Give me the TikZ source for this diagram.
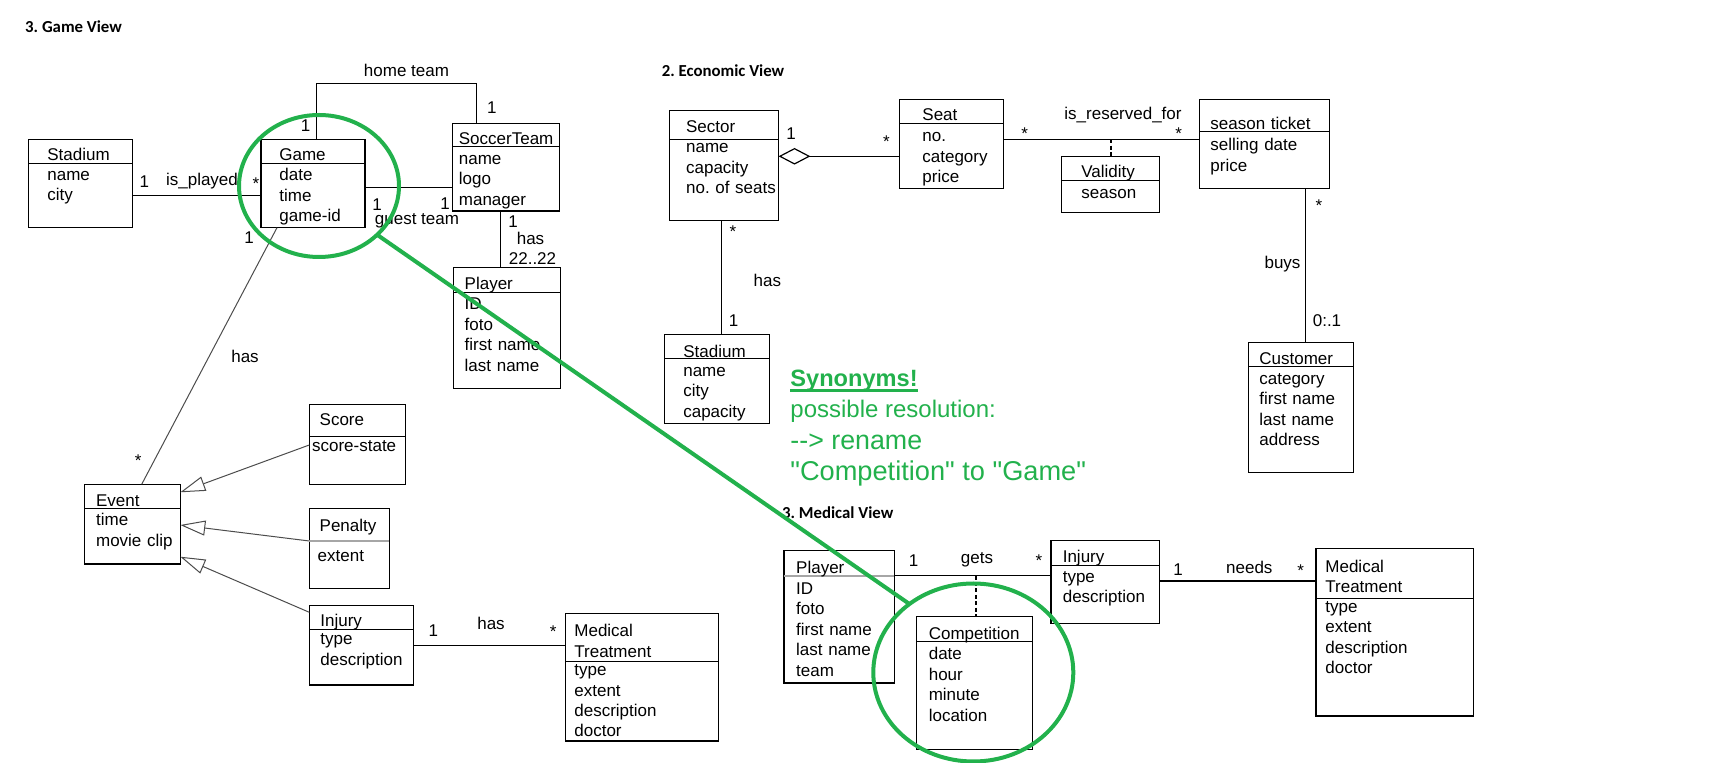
\documentclass[tikz,border=0pt]{standalone}
\usepackage{fontspec}
\setmainfont{Liberation Sans}
\newfontfamily\headfont{Carlito}
\newfontfamily\notefont{Liberation Sans}
\usetikzlibrary{arrows.meta,fit,shapes.geometric}
\frenchspacing

\definecolor{markgreen}{RGB}{34,177,76}
\newcommand\boxfont{\fontsize{8.5}{10.25}\selectfont}

\tikzset{
  classbox/.style={draw, rectangle, inner sep=0pt, outer sep=0pt, line width=0.6pt},
  ctitle/.style={anchor=base west, inner sep=0pt, font=\boxfont, text width=80pt, align=left},
  cattr/.style={anchor=base west, inner sep=0pt, font=\boxfont, text width=80pt, align=left},
  lbl/.style={inner sep=0pt, font=\boxfont},
  star/.style={lbl, yshift=-1.8pt},
  viewtitle/.style={anchor=base west, inner sep=0pt, font=\headfont\bfseries\fontsize{8.4}{10}\selectfont},
  assoc/.style={line width=0.6pt},
  thinlink/.style={line width=0.5pt, draw=black!70},
  gen/.style={thinlink, -{Triangle[open, length=12.5pt, width=7.5pt]}},
  aggr/.style={assoc, {Diamond[open, length=15.9pt, width=8.3pt]}-},
  linkdash/.style={line width=1pt, dash pattern=on 2pt off 1.2pt},
  ring/.style={draw=markgreen, line width=2pt, ellipse, inner sep=0pt, outer sep=0pt},
  note/.style={anchor=base west, inner sep=0pt, text=markgreen}
}

\begin{document}
\begin{tikzpicture}[x=0.5pt, y=-0.5pt]
  \useasboundingbox (0,0) rectangle (1713,763);

  % ---------- 3. Game View ----------
  \node[viewtitle] (gameview) at (24.8,32.5) {3. Game View};

  \node[classbox, fit={(28.7,139.3) (132.6,227.7)}] (gstad) {};
  \draw (gstad.west |- 0,163.3) -- (gstad.east |- 0,163.3);
  \node[ctitle] (gstad-t) at (47,161) {Stadium};
  \node[cattr] (gstad-a) at (47,180.5) {name\\city};

  \node[classbox, fit={(261,139.3) (365,227.7)}] (game) {};
  \draw (game.west |- 0,163.3) -- (game.east |- 0,163.3);
  \node[ctitle] (game-t) at (279,161) {Game};
  \node[cattr] (game-a) at (279,181) {date\\time\\game-id};

  \node[classbox, fit={(452.8,123.3) (559.8,211)}] (team) {};
  \draw (team.west |- 0,146.7) -- (team.east |- 0,146.7);
  \node[ctitle] (team-t) at (458.5,145) {SoccerTeam};
  \node[cattr] (team-a) at (458.5,164.3) {name\\logo\\manager};

  \node[classbox, fit={(453.3,267.3) (560.7,388.3)}] (gplayer) {};
  \draw (gplayer.west |- 0,292.3) -- (gplayer.east |- 0,292.3);
  \node[ctitle] (gplayer-t) at (464.3,290) {Player};
  \node[cattr] (gplayer-a) at (464.3,310) {ID\\foto\\first name\\last name};

  \node[classbox, fit={(84.3,484.3) (180.3,564)}] (event) {};
  \draw (event.west |- 0,508.3) -- (event.east |- 0,508.3);
  \node[ctitle] (event-t) at (95.7,506.5) {Event};
  \node[cattr] (event-a) at (95.7,526) {time\\movie clip};

  \node[classbox, fit={(309.3,404.3) (405.3,484.3)}] (score) {};
  \draw (score.west |- 0,436.3) -- (score.east |- 0,436.3);
  \node[ctitle] (score-t) at (319.3,426) {Score};
  \node[cattr] (score-a) at (311.7,451.5) {score-state};

  \node[classbox, fit={(309.3,508.3) (389.3,588.3)}] (penalty) {};
  \draw[black!35, line width=0.8pt] (penalty.west |- 0,541) -- (penalty.east |- 0,541);
  \node[ctitle] (penalty-t) at (319.3,531.5) {Penalty};
  \node[cattr] (penalty-a) at (317.3,562) {extent};

  \node[classbox, fit={(309.3,605.7) (413.3,685)}] (ginjury) {};
  \draw (ginjury.west |- 0,629.3) -- (ginjury.east |- 0,629.3);
  \node[ctitle] (ginjury-t) at (320,626.5) {Injury};
  \node[cattr] (ginjury-a) at (320,645) {type\\description};

  \node[classbox, fit={(565.3,613.7) (718.3,741)}] (gmed) {};
  \draw (gmed.west |- 0,661.3) -- (gmed.east |- 0,661.3);
  \node[ctitle] (gmed-t) at (574,637) {Medical\\Treatment};
  \node[cattr] (gmed-a) at (574,675.5) {type\\extent\\description\\doctor};

  \draw[assoc] (game.north -| 316.8,0) -- ++(0,-56) -| (team.north -| 476.5,0);
  \node[lbl] (home-l) at (406.5,70.7) {home team};
  \node[lbl] (home-m1) at (305.7,126) {1};
  \node[lbl] (home-m2) at (491.8,107.3) {1};

  \draw[assoc] (gstad.east |- 0,195.3) -- (game.west |- 0,195.3);
  \node[lbl] (played-m1) at (144.4,181.7) {1};
  \node[lbl] (played-l) at (202,181) {is\_played};
  \node[star] (played-m2) at (256,180) {*};

  \draw[assoc] (game.east |- 0,187.3) -- (team.west |- 0,187.3);
  \node[lbl] (guest-m1) at (377,205) {1};
  \node[lbl] (guest-m2) at (445,203.3) {1};
  \node[lbl] (guest-l) at (417,220.7) {guest team};

  \draw[assoc] (team.south -| 500.6,0) -- (gplayer.north -| 500.6,0);
  \node[lbl] (squad-m1) at (513,221.7) {1};
  \node[lbl] (squad-l) at (530.5,238.3) {has};
  \node[lbl] (squad-m2) at (532.5,259) {22..22};

  \draw[thinlink] (game.south -| 277,0) -- (event.north -| 141.7,0);
  \node[lbl] (events-m1) at (249,238) {1};
  \node[lbl] (events-l) at (245,356.7) {has};
  \node[star] (events-m2) at (138.3,456.7) {*};

  \draw[gen] (score.west |- 0,445) -- (event.east |- 0,492.3);
  \draw[gen] (penalty.west |- 0,541) -- (event.east |- 0,525);
  \draw[gen] (ginjury.west |- 0,612.3) -- (event.east |- 0,556.7);

  \draw[assoc] (ginjury.east |- 0,645.3) -- (gmed.west |- 0,645.3);
  \node[lbl] (treat-m1) at (433.3,630.7) {1};
  \node[lbl] (treat-l) at (491,623.3) {has};
  \node[star] (treat-m2) at (553.3,628.3) {*};

  % ---------- 2. Economic View ----------
  \node[viewtitle] (ecoview) at (661.4,76.5) {2. Economic View};

  \node[classbox, fit={(669.3,110.3) (778.6,220.7)}] (sector) {};
  \draw (sector.west |- 0,139.3) -- (sector.east |- 0,139.3);
  \node[ctitle] (sector-t) at (685.7,133) {Sector};
  \node[cattr] (sector-a) at (685.7,153) {name\\capacity\\no. of seats};

  \node[classbox, fit={(899.3,99.3) (1003.2,188.3)}] (seat) {};
  \draw (seat.west |- 0,123.3) -- (seat.east |- 0,123.3);
  \node[ctitle] (seat-t) at (922,121) {Seat};
  \node[cattr] (seat-a) at (922,142) {no.\\category\\price};

  \node[classbox, fit={(1061.4,156.7) (1159.6,212.3)}] (valid) {};
  \draw (valid.west |- 0,180.7) -- (valid.east |- 0,180.7);
  \node[ctitle] (valid-t) at (1081,178) {Validity};
  \node[cattr] (valid-a) at (1081,198.5) {season};

  \node[classbox, fit={(1199.3,99.3) (1329.3,188.3)}] (ticket) {};
  \draw (ticket.west |- 0,131.7) -- (ticket.east |- 0,131.7);
  \node[ctitle] (ticket-t) at (1210,129.5) {season ticket};
  \node[cattr] (ticket-a) at (1210,151) {selling date\\price};

  \node[classbox, fit={(664.3,334.3) (769.3,423.3)}] (estad) {};
  \draw (estad.west |- 0,358.3) -- (estad.east |- 0,358.3);
  \node[ctitle] (estad-t) at (682.9,357.5) {Stadium};
  \node[cattr] (estad-a) at (682.9,376.3) {name\\city\\capacity};

  \node[classbox, fit={(1248.3,342.3) (1353.3,472.3)}] (cust) {};
  \draw (cust.west |- 0,366) -- (cust.east |- 0,366);
  \node[ctitle] (cust-t) at (1259,365) {Customer};
  \node[cattr] (cust-a) at (1259,384.5) {category\\first name\\last name\\address};

  \draw[aggr] (sector.east |- 0,156.3) -- (seat.west |- 0,156.3);
  \node[lbl] (part-m1) at (791,133.3) {1};
  \node[star] (part-m2) at (886.4,138.3) {*};

  \draw[assoc] (seat.east |- 0,139.3) -- (ticket.west |- 0,139.3);
  \node[star] (resv-m1) at (1024.6,130) {*};
  \node[lbl] (resv-l) at (1123,115.3) {is\_reserved\_for};
  \node[star] (resv-m2) at (1178.6,130) {*};
  \coordinate (resv) at (1111.4,139.3);
  \draw[linkdash] (resv) -- (valid.north -| resv);

  \draw[assoc] (sector.south -| 721.4,0) -- (estad.north -| 721.4,0);
  \node[star] (sect-m1) at (732.9,228.3) {*};
  \node[lbl] (sect-l) at (767.3,280) {has};
  \node[lbl] (sect-m2) at (733.6,320.7) {1};

  \draw[assoc] (ticket.south -| 1305.7,0) -- (cust.north -| 1305.7,0);
  \node[star] (buys-m1) at (1319,201.7) {*};
  \node[lbl] (buys-l) at (1282.5,264.3) {buys};
  \node[lbl] (buys-m2) at (1327,320.7) {0:.1};

  % ---------- 3. Medical View ----------
  \node[viewtitle] (medview) at (781.7,518.5) {3. Medical View};

  \node[classbox, fit={(783.9,550.7) (894.3,683)}] (mplayer) {};
  \draw[black!35, line width=0.8pt] (mplayer.west |- 0,576) -- (mplayer.east |- 0,576);
  \node[ctitle] (mplayer-t) at (795.8,573.5) {Player};
  \node[cattr] (mplayer-a) at (795.8,594.3) {ID\\foto\\first name\\last name\\team};

  \node[classbox, fit={(916.4,616.7) (1032.2,749.3)}] (comp) {};
  \draw (comp.west |- 0,641.7) -- (comp.east |- 0,641.7);
  \node[ctitle] (comp-t) at (928.4,640) {Competition};
  \node[cattr] (comp-a) at (928.4,660) {date\\hour\\minute\\location};

  \node[classbox, fit={(1051,540.7) (1159.2,623.3)}] (minjury) {};
  \draw (minjury.west |- 0,565.3) -- (minjury.east |- 0,565.3);
  \node[ctitle] (minjury-t) at (1062.4,563) {Injury};
  \node[cattr] (minjury-a) at (1062.4,582.5) {type\\description};

  \node[classbox, fit={(1316,548.3) (1473.3,716)}] (mmed) {};
  \draw (mmed.west |- 0,598.3) -- (mmed.east |- 0,598.3);
  \node[ctitle] (mmed-t) at (1325,572.5) {Medical\\Treatment};
  \node[cattr] (mmed-a) at (1325,612.5) {type\\extent\\description\\doctor};

  \draw[assoc] (mplayer.east |- 0,575.7) -- (minjury.west |- 0,575.7);
  \node[lbl] (gets-m1) at (913.6,561) {1};
  \node[lbl] (gets-l) at (977,559.3) {gets};
  \node[star] (gets-m2) at (1038.8,557.3) {*};
  \coordinate (getsmid) at (975.7,575.7);
  \draw[linkdash] (getsmid) -- (comp.north -| getsmid);

  \draw[assoc] (minjury.east |- 0,581) -- (mmed.west |- 0,581);
  \node[lbl] (needs-m1) at (1178,570) {1};
  \node[lbl] (needs-l) at (1249.3,567.7) {needs};
  \node[star] (needs-m2) at (1300.7,567.3) {*};

  % ---------- green remarks ----------
  \node[ring, minimum width=80pt, minimum height=71pt] (ring1) at (319,186) {};
  \node[ring, minimum width=100pt, minimum height=89pt] (ring2) at (973.3,672.5) {};
  \draw[markgreen, line width=2pt] (ring1.-40) -- (ring2.133);

  \node[note, font=\notefont\bfseries\fontsize{11.8}{14}\selectfont] (syn1) at (790,386.7) {Synonyms!};
  \draw[markgreen, line width=1.2pt] ([yshift=-2pt]syn1.base west) -- ([yshift=-2pt]syn1.base east);
  \node[note, font=\notefont\fontsize{12}{14}\selectfont] (syn2) at (790,417.3) {possible resolution:};
  \node[note, font=\notefont\fontsize{13.4}{16}\selectfont] (syn3) at (790,449.3) {-{}-> rename};
  \node[note, font=\notefont\fontsize{13.6}{16}\selectfont] (syn4) at (790,480.7) {"Competition" to "Game"};
\end{tikzpicture}
\end{document}
